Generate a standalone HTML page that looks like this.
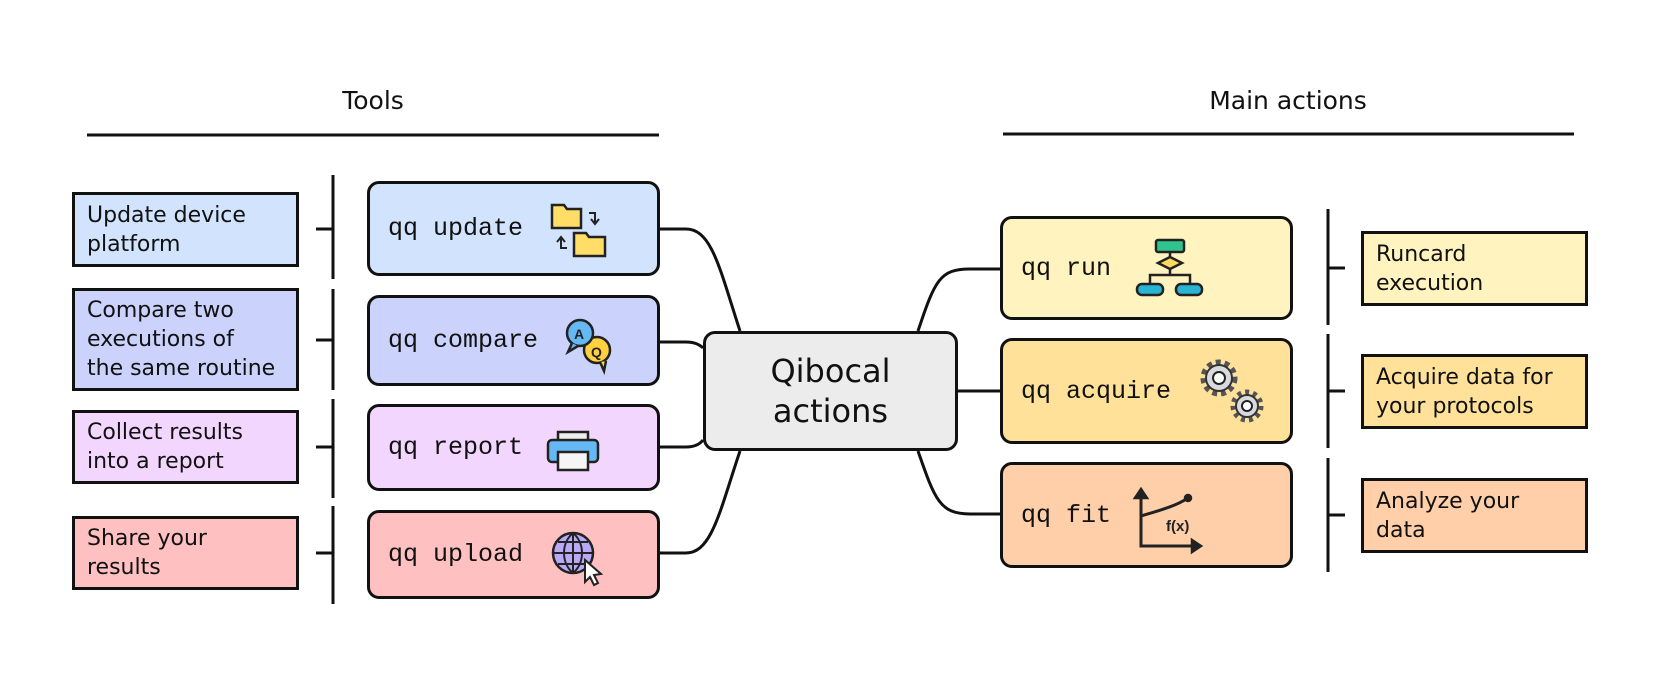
<!DOCTYPE html>
<html><head><meta charset="utf-8"><style>
body{margin:0;width:1661px;height:678px;background:#fff;position:relative;overflow:hidden;font-family:"DejaVu Sans","Liberation Sans",sans-serif;}
.b{position:absolute;box-sizing:border-box;border:3px solid #111;}
.lab{font-size:22px;line-height:29px;padding:6px 12px;color:#111;display:flex;align-items:center;}
.cmd{border-radius:12px;font-family:"Liberation Mono",monospace;font-size:25px;color:#111;padding-left:18px;display:flex;align-items:center;}
.h{position:absolute;font-size:25px;color:#111;transform:translateX(-50%);top:86px;}
svg{position:absolute;left:0;top:0;}
</style></head><body>
<div class="h" style="left:373px">Tools</div>
<div class="h" style="left:1288px">Main actions</div>

<div class="b lab" style="left:72px;top:192px;width:227px;height:75px;background:#d2e3fd">Update device<br>platform</div>
<div class="b lab" style="left:72px;top:288px;width:227px;height:103px;background:#cbd3fd">Compare two<br>executions of<br>the same routine</div>
<div class="b lab" style="left:72px;top:410px;width:227px;height:74px;background:#f3d6fd">Collect results<br>into a report</div>
<div class="b lab" style="left:72px;top:516px;width:227px;height:74px;background:#fec0c0">Share your<br>results</div>

<div class="b cmd" style="left:367px;top:181px;width:293px;height:95px;background:#d2e3fd">qq update</div>
<div class="b cmd" style="left:367px;top:295px;width:293px;height:91px;background:#cbd3fd">qq compare</div>
<div class="b cmd" style="left:367px;top:404px;width:293px;height:87px;background:#f3d6fd">qq report</div>
<div class="b cmd" style="left:367px;top:510px;width:293px;height:89px;background:#fec0c0">qq upload</div>

<div class="b" style="left:703px;top:331px;width:255px;height:120px;border-radius:12px;background:#ececec;display:flex;align-items:center;justify-content:center;text-align:center;font-size:32px;line-height:40px;color:#111">Qibocal<br>actions</div>

<div class="b cmd" style="left:1000px;top:216px;width:293px;height:104px;background:#fff3c0">qq run</div>
<div class="b cmd" style="left:1000px;top:338px;width:293px;height:106px;background:#ffe199">qq acquire</div>
<div class="b cmd" style="left:1000px;top:462px;width:293px;height:106px;background:#ffcfaa">qq fit</div>

<div class="b lab" style="left:1361px;top:231px;width:227px;height:75px;background:#fff3c0">Runcard<br>execution</div>
<div class="b lab" style="left:1361px;top:354px;width:227px;height:75px;background:#ffe199">Acquire data for<br>your protocols</div>
<div class="b lab" style="left:1361px;top:478px;width:227px;height:75px;background:#ffcfaa">Analyze your<br>data</div>

<svg width="1661" height="678" fill="none" stroke="#111" stroke-width="3">
<line x1="87" y1="135" x2="659" y2="135"/>
<line x1="1003" y1="134" x2="1574" y2="134"/>
<g>
<line x1="333" y1="175" x2="333" y2="279"/><line x1="333" y1="289" x2="333" y2="390"/>
<line x1="333" y1="399" x2="333" y2="498"/><line x1="333" y1="506" x2="333" y2="604"/>
<line x1="316" y1="229" x2="333" y2="229"/><line x1="316" y1="340" x2="333" y2="340"/>
<line x1="316" y1="447" x2="333" y2="447"/><line x1="316" y1="553" x2="333" y2="553"/>
<line x1="1328" y1="209" x2="1328" y2="325"/><line x1="1328" y1="334" x2="1328" y2="448"/>
<line x1="1328" y1="458" x2="1328" y2="572"/>
<line x1="1328" y1="268" x2="1345" y2="268"/><line x1="1328" y1="391" x2="1345" y2="391"/>
<line x1="1328" y1="515" x2="1345" y2="515"/>
</g>
<path d="M660 229 H686 C712 229 720 270 740 331"/>
<path d="M660 342 H686 C695 342 700 345 703 348"/>
<path d="M660 447 H686 C695 447 700 444 703 440"/>
<path d="M660 553 H686 C712 553 720 510 740 451"/>
<path d="M918 331 C935 280 940 269 970 269 H1000"/>
<path d="M958 391 H1000"/>
<path d="M918 451 C935 500 940 514 970 514 H1000"/>
</svg>

<!-- icons -->
<svg width="1661" height="678" stroke="#222" stroke-width="2.5">
<!-- folders -->
<path d="M552 205 h12 l3 4 h14 v19 h-29z" fill="#ffdd66"/>
<path d="M574 233 h12 l3 4 h16 v19 h-31z" fill="#ffdd66"/>
<path d="M589 213 h6 v10 M591 219 l4 5 l4 -5" fill="none" stroke-width="2"/>
<path d="M567 248 h-6 v-10 M557 242 l4 -5 l4 5" fill="none" stroke-width="2"/>
<!-- chat -->
<circle cx="597" cy="350" r="13" fill="#ffd040"/><path d="M600 362 l4 9 l2 -10" fill="#ffd040"/>
<circle cx="580" cy="333" r="13" fill="#66b8f5"/><path d="M572 343 l-4 9 l10 -6" fill="#66b8f5"/>
<text x="574" y="339" font-size="14" font-weight="bold" fill="#222" stroke="none" font-family="Liberation Sans">A</text>
<text x="591" y="357" font-size="14" font-weight="bold" fill="#222" stroke="none" font-family="Liberation Sans">Q</text>
<!-- printer -->
<rect x="558" y="432" width="30" height="10" fill="#eee"/>
<rect x="548" y="440" width="50" height="22" rx="4" fill="#66b8f5"/>
<rect x="558" y="452" width="30" height="18" fill="#f5f5f5"/>
<!-- globe -->
<circle cx="573" cy="553" r="20" fill="#b9a8f5"/>
<path d="M553 553 h40 M573 533 v40 M573 533 c-12 10 -12 30 0 40 M573 533 c12 10 12 30 0 40 M558 542 h30 M558 564 h30" fill="none" stroke-width="2"/>
<path d="M585 560 l0 22 l5 -5 l4 8 l4 -2 l-4 -8 l7 -1z" fill="#fff" stroke-width="2"/>
<!-- flowchart -->
<rect x="1156" y="240" width="28" height="12" rx="2" fill="#2ec48f"/>
<path d="M1170 257 l12 6 l-12 6 l-12 -6z" fill="#ffd960"/>
<path d="M1170 252 v5 M1170 269 v6 M1150 283 v-8 h40 v8" fill="none"/>
<rect x="1137" y="284" width="26" height="11" rx="5" fill="#27b5d3"/>
<rect x="1176" y="284" width="26" height="11" rx="5" fill="#27b5d3"/>
<!-- gears -->
<circle cx="1219" cy="378" r="16" fill="none" stroke="#555" stroke-dasharray="5 4" stroke-width="5"/>
<circle cx="1219" cy="378" r="13" fill="#d8dadd" stroke="#333" stroke-width="2"/><circle cx="1219" cy="378" r="6" fill="#fff" stroke-width="2"/>
<circle cx="1247" cy="406" r="14" fill="none" stroke="#555" stroke-dasharray="4 4" stroke-width="5"/>
<circle cx="1247" cy="406" r="11" fill="#d8dadd" stroke="#333" stroke-width="2"/><circle cx="1247" cy="406" r="5" fill="#fff" stroke-width="2"/>
<!-- fit -->
<path d="M1141 492 v54 h56 M1141 516 c20 -6 35 -10 47 -18" fill="none" stroke-width="3"/>
<path d="M1135 498 l6 -9 l6 9z M1192 540 l9 6 l-9 6z" fill="#222"/>
<circle cx="1188" cy="498" r="3" fill="#222"/>
<text x="1166" y="531" font-size="15" font-weight="bold" fill="#222" stroke="none" font-family="Liberation Sans">f(x)</text>
</svg>
</body></html>
